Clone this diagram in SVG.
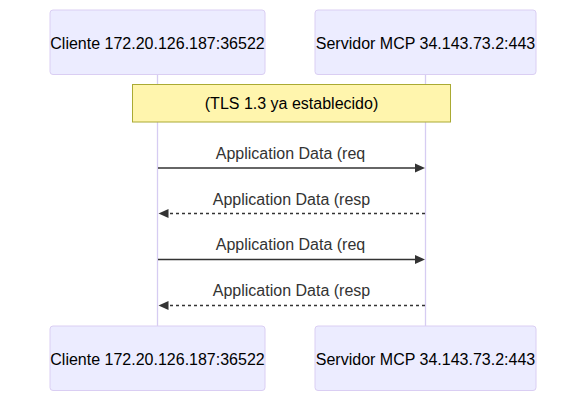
<svg xmlns="http://www.w3.org/2000/svg" width="586" height="402" viewBox="0 0 586 402">
<style>
.actor{fill:#ECECFF;stroke:#DACEF3;stroke-width:1}
.atext{font-family:"Liberation Sans",Arial,sans-serif;font-size:16px;fill:#000;text-anchor:middle}
.life{stroke:#D6CCF2;stroke-width:1.3;fill:none}
.note{fill:#FFF5AD;stroke:#AAAA33;stroke-width:1}
.ntext{font-family:"Liberation Sans",Arial,sans-serif;font-size:16px;fill:#000;text-anchor:middle}
.mtext{font-family:"Liberation Sans",Arial,sans-serif;font-size:16px;fill:#333;text-anchor:middle}
.msg{stroke:#333;stroke-width:1.5;fill:none}
.dash{stroke-dasharray:3,3}
.head{fill:#333}
</style>
<rect width="586" height="402" fill="#fff"/>
<g id="lifelines">
<line class="life" x1="157.5" y1="74" x2="157.5" y2="326"/>
<line class="life" x1="425.5" y1="74" x2="425.5" y2="326"/>
</g>
<g id="actor-cliente-top">
<rect class="actor" x="50" y="10" width="215" height="64.5" rx="3"/>
<text class="atext" x="157.5" y="48.5">Cliente 172.20.126.187:36522</text>
</g>
<g id="actor-servidor-top">
<rect class="actor" x="315" y="10" width="221" height="64.5" rx="3"/>
<text class="atext" x="425.5" y="48.5">Servidor MCP 34.143.73.2:443</text>
</g>
<g id="note">
<rect class="note" x="132.5" y="84.5" width="318" height="37.5"/>
<text class="ntext" x="291.5" y="109">(TLS 1.3 ya establecido)</text>
</g>
<g id="connectors">
<text class="mtext" x="290.5" y="159">Application Data (req</text>
<line class="msg" x1="158" y1="168" x2="417" y2="168"/>
<polygon class="head" points="425,168 415,163.5 415,172.5"/>
<text class="mtext" x="291.5" y="204.5">Application Data (resp</text>
<line class="msg dash" x1="425" y1="213.5" x2="166" y2="213.5"/>
<polygon class="head" points="158.5,213.5 168.5,209 168.5,218"/>
<text class="mtext" x="290.5" y="250">Application Data (req</text>
<line class="msg" x1="158" y1="259.5" x2="417" y2="259.5"/>
<polygon class="head" points="425,259.5 415,255 415,264"/>
<text class="mtext" x="291.5" y="296">Application Data (resp</text>
<line class="msg dash" x1="425" y1="305.5" x2="166" y2="305.5"/>
<polygon class="head" points="158.5,305.5 168.5,301 168.5,310"/>
</g>
<g id="actor-cliente-bottom">
<rect class="actor" x="50" y="326" width="215" height="64.5" rx="3"/>
<text class="atext" x="157.5" y="364.5">Cliente 172.20.126.187:36522</text>
</g>
<g id="actor-servidor-bottom">
<rect class="actor" x="315" y="326" width="221" height="64.5" rx="3"/>
<text class="atext" x="425.5" y="364.5">Servidor MCP 34.143.73.2:443</text>
</g>
</svg>
